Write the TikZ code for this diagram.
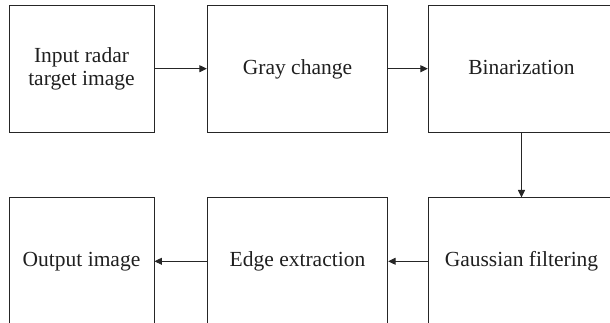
\documentclass[tikz,border=0pt]{standalone}
\usepackage{fontspec}
\setmainfont{Liberation Serif}
\usetikzlibrary{arrows.meta}
\begin{document}
\begin{tikzpicture}[x=1pt,y=-1pt,
  stepbox/.style={draw=black!85,text=black!88,line width=0.9pt,inner sep=0pt,minimum height=126.7pt,
    align=center,font=\fontsize{21.5}{23.5}\selectfont},
  oneline/.style={text height=14pt,text depth=3pt},
  flow/.style={draw=black!85,line width=0.9pt,-{Triangle[length=7.5pt,width=7pt]}}]
\useasboundingbox (0,0) rectangle (610,323);
\clip (0,0) rectangle (610,323);
\node[stepbox,minimum width=145pt] (b1) at (81.5,68.7) {Input radar\\target image};
\node[stepbox,oneline,minimum width=180.4pt] (b2) at (297.5,68.7) {Gray change};
\node[stepbox,oneline,minimum width=186.4pt] (b3) at (521.5,68.7) {Binarization};
\node[stepbox,oneline,minimum width=145pt] (b4) at (81.5,261.3) {Output image};
\node[stepbox,oneline,minimum width=180.4pt] (b5) at (297.5,261.3) {Edge extraction};
\node[stepbox,oneline,minimum width=186.4pt] (b6) at (521.5,261.3) {Gaussian filtering};
\draw[flow] (b1) -- (b2);
\draw[flow] (b2) -- (b3);
\draw[flow] (b3) -- (b6);
\draw[flow] (b6) -- (b5);
\draw[flow] (b5) -- (b4);
\end{tikzpicture}
\end{document}
